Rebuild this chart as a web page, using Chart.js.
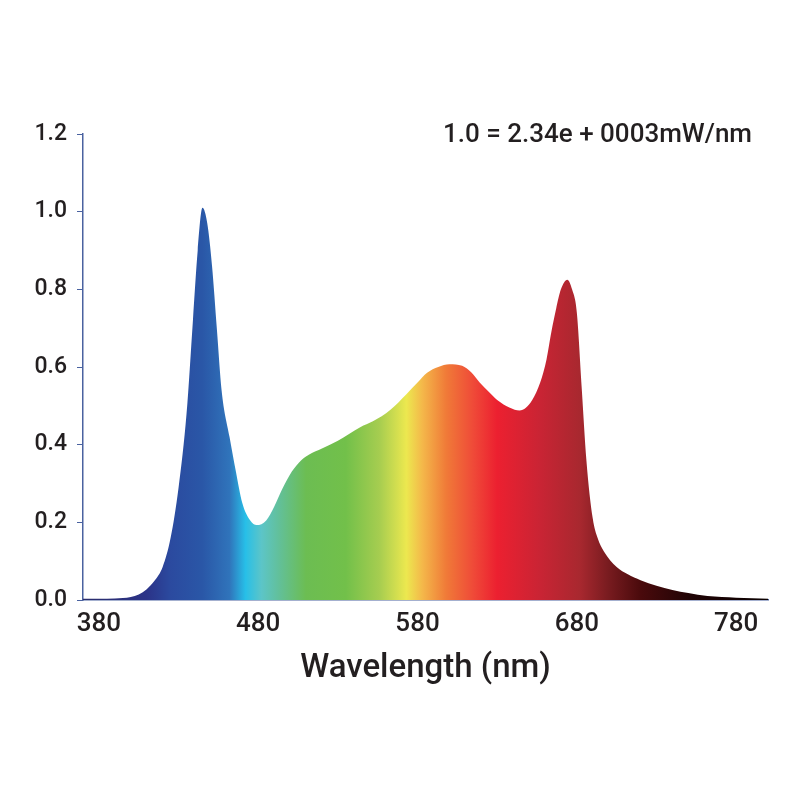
<!DOCTYPE html>
<html>
<head>
<meta charset="utf-8">
<script src="https://cdn.jsdelivr.net/npm/chart.js@4"></script>
<style>
  html, body { margin: 0; padding: 0; background: #fff; }
  #wrap { width: 800px; height: 800px; }
</style>
</head>
<body>
<div id="wrap"><canvas id="chart" width="800" height="800"></canvas></div>
<script>
// spectrum (wavelength in nm, relative intensity)
const wavelengths = [370, 380, 390, 400, 405, 410, 415, 420, 425, 430, 435, 439, 442, 445, 448, 451, 454, 457, 462, 466, 470, 475, 479, 485, 490, 495, 501, 507, 512, 520, 530, 544, 552, 563, 573, 580, 586, 593, 600, 608, 614, 619, 625, 630, 638, 644, 648, 652, 657, 661, 664, 667, 670, 674, 677, 680, 683, 686, 690, 693, 697, 705, 712, 720, 730, 740, 750, 762, 780, 800];
const intensity   = [0.003, 0.003, 0.004, 0.008, 0.014, 0.028, 0.05, 0.085, 0.16, 0.29, 0.48, 0.72, 0.90, 1.01, 0.97, 0.86, 0.70, 0.54, 0.42, 0.33, 0.25, 0.205, 0.193, 0.205, 0.24, 0.285, 0.33, 0.36, 0.375, 0.39, 0.41, 0.445, 0.46, 0.49, 0.53, 0.56, 0.585, 0.60, 0.607, 0.603, 0.585, 0.56, 0.535, 0.515, 0.495, 0.488, 0.495, 0.515, 0.56, 0.62, 0.69, 0.75, 0.80, 0.825, 0.80, 0.74, 0.55, 0.36, 0.21, 0.16, 0.125, 0.085, 0.066, 0.051, 0.037, 0.026, 0.018, 0.01, 0.006, 0.003];

const xTicks = [380, 480, 580, 680, 780];
const yTicks = [0, 0.2, 0.4, 0.6, 0.8, 1.0, 1.2];
const note = '1.0 = 2.34e + 0003mW/nm';

// spectrum colours along wavelength
const colorStops = [
  [370, '#2a2c6a'], [410, '#2b3388'], [425, '#2b4a9f'], [445, '#2a57a7'],
  [462, '#3074bb'], [472, '#27bfe8'], [482, '#5cc5c8'], [493, '#62c09a'],
  [510, '#6cbd52'], [535, '#72c04a'], [556, '#a6cd50'], [573, '#ece84f'],
  [583, '#f4b84a'], [598, '#f07a38'], [615, '#ef4a38'], [630, '#ec2030'],
  [657, '#c92434'], [682, '#a8282f'], [699, '#7a1c20'], [720, '#4a0a0c'],
  [751, '#200405'], [800, '#0a0000']
];

const axisColor = '#4a62a0';
const textColor = '#231f20';
const fontFamily = 'Roboto, "Liberation Sans", Arial, sans-serif';

function spectrumFill(context) {
  const chart = context.chart;
  const { chartArea, scales } = chart;
  if (!chartArea) return '#2a57a7';
  const x0 = scales.x.getPixelForValue(370);
  const x1 = scales.x.getPixelForValue(800);
  const g = chart.ctx.createLinearGradient(x0, 0, x1, 0);
  colorStops.forEach(([w, c]) => g.addColorStop((w - 370) / 430, c));
  return g;
}

const notePlugin = {
  id: 'note',
  afterDraw(chart) {
    const { ctx, chartArea } = chart;
    ctx.save();
    ctx.font = '500 26px ' + fontFamily;
    ctx.fillStyle = textColor;
    ctx.textAlign = 'right';
    ctx.textBaseline = 'middle';
    ctx.fillText(note, chartArea.right - 16, chartArea.top + 1);
    ctx.restore();
  }
};

new Chart(document.getElementById('chart'), {
  type: 'line',
  data: {
    datasets: [{
      data: wavelengths.map((w, i) => ({ x: w, y: intensity[i] })),
      fill: 'origin',
      backgroundColor: spectrumFill,
      borderWidth: 0,
      pointRadius: 0,
      cubicInterpolationMode: 'monotone'
    }]
  },
  options: {
    responsive: false,
    animation: false,
    layout: { padding: { top: 134, right: 32, bottom: 110, left: 0 } },
    plugins: { legend: { display: false }, tooltip: { enabled: false } },
    scales: {
      x: {
        type: 'linear',
        min: 370,
        max: 800,
        afterBuildTicks: (s) => { s.ticks = xTicks.map(v => ({ value: v })); },
        afterFit: (s) => { s.height = 90; },
        grid: { display: false },
        border: { display: true, color: axisColor, width: 1.5 },
        ticks: {
          color: textColor,
          padding: 1,
          maxRotation: 0,
          font: { family: fontFamily, size: 26, weight: '500' }
        },
        title: {
          display: true,
          text: 'Wavelength (nm)',
          color: textColor,
          padding: { top: 0, bottom: 1 },
          font: { family: fontFamily, size: 33, weight: '500' }
        }
      },
      y: {
        min: 0,
        max: 1.2,
        afterBuildTicks: (s) => { s.ticks = yTicks.map(v => ({ value: v })); },
        afterFit: (s) => { s.width = 83; },
        grid: {
          display: true,
          drawOnChartArea: false,
          drawTicks: true,
          tickLength: 6,
          tickColor: axisColor,
          color: axisColor
        },
        border: { display: true, color: axisColor, width: 1.5 },
        ticks: {
          color: textColor,
          padding: 10,
          font: { family: fontFamily, size: 23, weight: '500' },
          callback: (v) => v.toFixed(1)
        }
      }
    }
  },
  plugins: [notePlugin]
});
</script>
</body>
</html>
